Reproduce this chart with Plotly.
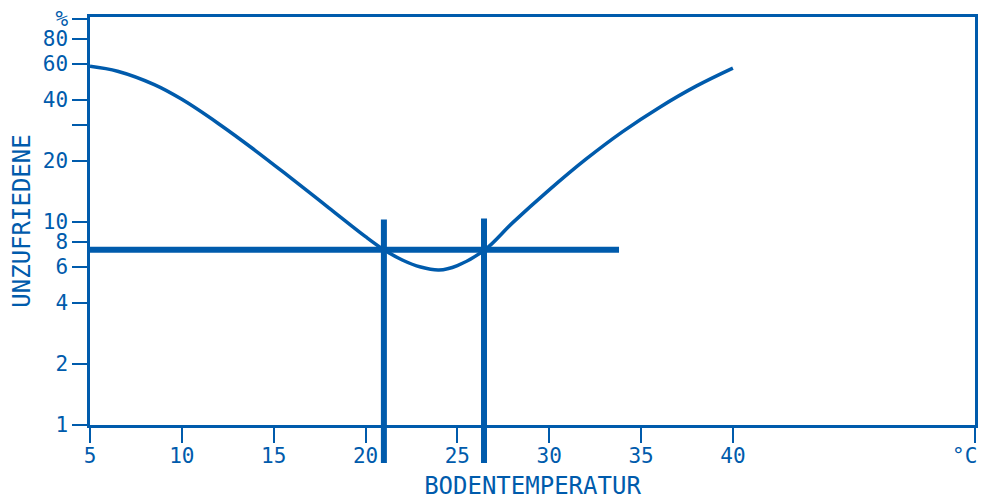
import plotly.graph_objects as go

BLUE = "#005BAC"
FONT = "DejaVu Sans Mono"

# Curve: dissatisfied (%) vs floor temperature (°C)
temp = [5, 6.5, 8.5, 10, 12, 14, 16, 18, 20, 21, 22, 23, 24, 25, 26.5, 28, 30, 32, 34, 36, 38, 40]
unzufrieden = [58.5, 55.3, 47.5, 40.2, 30.5, 22.5, 16.3, 11.75, 8.47, 7.3, 6.5, 6.0, 5.8, 6.1, 7.3, 9.9, 14.4, 20.4, 27.9, 36.7, 46.7, 57.3]

# Limit lines
limit_level = 7.3
limit_x_range = [5, 33.8]
comfort_low = 21
comfort_high = 26.45
vline_low_y = [0.65, 10.3]
vline_high_y = [0.65, 10.4]

x_ticks = [5, 10, 15, 20, 25, 30, 35, 40, 53.17]
x_ticktext = ["5", "10", "15", "20", "25", "30", "35", "40", ""]
y_ticks = [1, 2, 4, 6, 8, 10, 20, 30, 40, 60, 80, 100]
y_ticktext = ["1", "2", "4", "6", "8", "10", "20", "", "40", "60", "80", "%"]

X_RANGE = [5, 53.18]
Y_TOP = 2.01
# page has an 8px body margin: figure is offset by (8, 8) in the window
OFF = 8
W, H = 989 - OFF, 500 - OFF
plot_top, plot_bottom = 17 - OFF, 425 - OFF
paper_bottom = 470 - OFF
mt, ml = plot_top, 90 - OFF
mr = W - (975 - OFF)
mb = H - paper_bottom
paper_h = paper_bottom - plot_top
y_dom0 = (paper_bottom - plot_bottom) / paper_h
decade_px = (plot_bottom - plot_top) / Y_TOP
y2_bottom = -(paper_bottom - plot_bottom) / decade_px

fig = go.Figure()
fig.add_trace(go.Scatter(x=temp, y=unzufrieden, mode="lines", line=dict(color=BLUE, width=3.5, shape="spline"),
                         xaxis="x", yaxis="y", hoverinfo="skip"))
fig.add_trace(go.Scatter(x=limit_x_range, y=[limit_level, limit_level], mode="lines",
                         line=dict(color=BLUE, width=6), xaxis="x", yaxis="y", hoverinfo="skip"))
fig.add_trace(go.Scatter(x=[comfort_low, comfort_low], y=vline_low_y, mode="lines",
                         line=dict(color=BLUE, width=6), xaxis="x2", yaxis="y2", hoverinfo="skip"))
fig.add_trace(go.Scatter(x=[comfort_high, comfort_high], y=vline_high_y, mode="lines",
                         line=dict(color=BLUE, width=6), xaxis="x2", yaxis="y2", hoverinfo="skip"))

fig.add_annotation(text="°C", x=X_RANGE[1], xref="x", xanchor="right", y=y_dom0, yref="paper",
                   yanchor="top", yshift=-17, xshift=4, showarrow=False,
                   font=dict(family=FONT, size=21, color=BLUE))

fig.update_layout(
    width=W, height=H,
    margin=dict(l=ml, r=mr, t=mt, b=mb, autoexpand=False),
    paper_bgcolor="white", plot_bgcolor="rgba(0,0,0,0)",
    showlegend=False,
    font=dict(family=FONT, color=BLUE),
    xaxis=dict(domain=[0, 1], range=X_RANGE, anchor="y",
               showline=True, linecolor=BLUE, linewidth=2.5, mirror=True,
               showgrid=False, zeroline=False,
               tickmode="array", tickvals=x_ticks, ticktext=x_ticktext,
               ticks="outside", ticklen=15, tickwidth=1.5, tickcolor=BLUE,
               tickfont=dict(family=FONT, size=21, color=BLUE), ticklabelstandoff=-5,
               ticklabeloverflow="allow",
               title=dict(text="BODENTEMPERATUR", font=dict(family=FONT, size=24, color=BLUE), standoff=15),
               automargin=True),
    yaxis=dict(domain=[y_dom0, 1], type="log", range=[0, Y_TOP], anchor="x",
               showline=True, linecolor=BLUE, linewidth=2.5, mirror=True,
               showgrid=False, zeroline=False,
               tickmode="array", tickvals=y_ticks, ticktext=y_ticktext,
               ticks="outside", ticklen=15, tickwidth=1.5, tickcolor=BLUE,
               tickfont=dict(family=FONT, size=21, color=BLUE), ticklabelstandoff=0,
               ticklabeloverflow="allow",
               title=dict(text="UNZUFRIEDENE", font=dict(family=FONT, size=24, color=BLUE), standoff=17),
               automargin=True),
    xaxis2=dict(domain=[0, 1], range=X_RANGE, anchor="y2", visible=False),
    yaxis2=dict(domain=[0, 1], type="log", range=[y2_bottom, Y_TOP], anchor="x2", visible=False),
)

fig.write_html("out.html")
